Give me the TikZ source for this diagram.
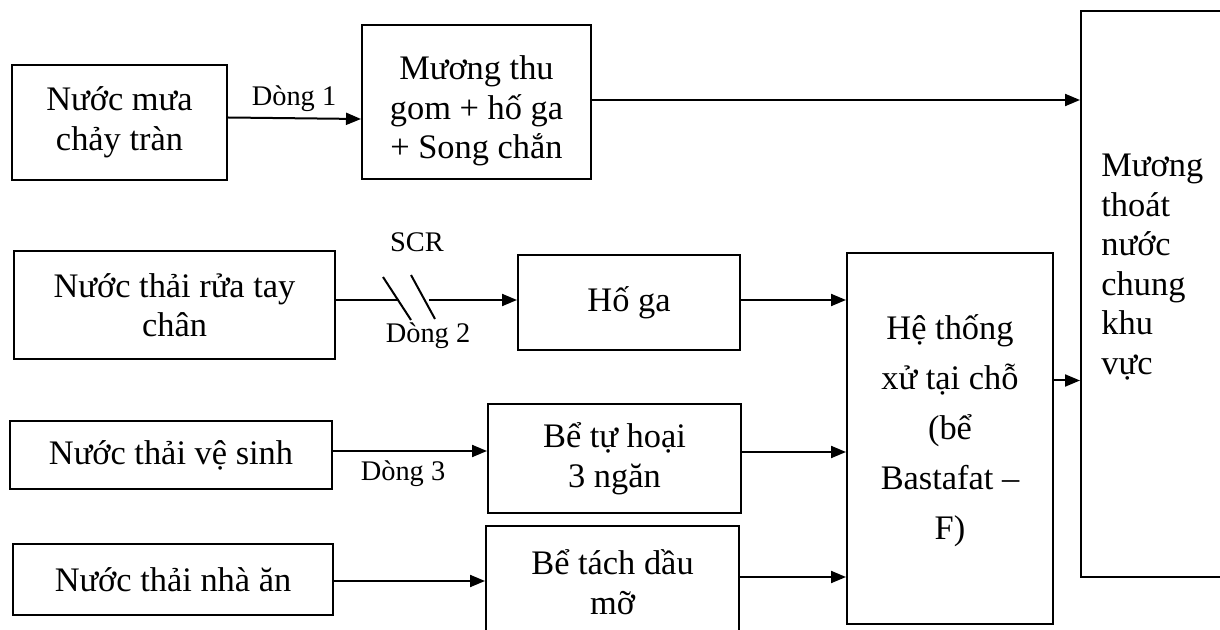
\documentclass[tikz,border=0pt]{standalone}
\usepackage{fontspec}
\setmainfont{Liberation Serif}
\usetikzlibrary{arrows.meta}
\newcommand\mainfs{\fontsize{17.2pt}{19.75pt}\selectfont}
\newcommand\labfs{\fontsize{14.2pt}{16pt}\selectfont}
\tikzset{
  box/.style={draw, line width=1pt, align=center, inner sep=0pt, font=\mainfs},
  txt/.style={inner sep=0pt, align=center, font=\mainfs},
  lab/.style={inner sep=0pt, font=\labfs, anchor=base},
  flow/.style={line width=1pt, -{Triangle[length=7.5pt,width=6pt]}},
  plain/.style={line width=1pt}
}
\begin{document}
\begin{tikzpicture}[x=0.5pt,y=-0.5pt]
\useasboundingbox (0,0) rectangle (1220,630);
\clip (0,0) rectangle (1220,630);
% boxes
\node[box, minimum width=107.5pt, minimum height=57.5pt] (a) at (119.5,122.5) {Nước mưa\\chảy tràn};
\node[box, minimum width=114.5pt, minimum height=77pt] (b) at (476.5,102) {};
\node[txt] (bt) at (476.5,111) {Mương thu\\gom + hố ga\\+ Song chắn};
\node[box, minimum width=160.5pt, minimum height=54pt] (c1) at (174.5,305) {Nước thải rửa tay\\chân};
\node[box, minimum width=161pt, minimum height=34pt] (c2) at (171,455) {Nước thải vệ sinh};
\node[box, minimum width=160pt, minimum height=35.5pt] (c3) at (173,579.5) {Nước thải nhà ăn};
\node[box, minimum width=111pt, minimum height=47.5pt] (d1) at (629,302.5) {Hố ga};
\node[box, minimum width=126.5pt, minimum height=54.5pt] (d2) at (614.5,458.5) {Bể tự hoại\\3 ngăn};
\node[box, minimum width=126.5pt, minimum height=56pt] (d3) at (612.5,582) {Bể tách dầu\\mỡ};
\node[box, minimum width=103pt, minimum height=185.5pt] (f) at (950,438.5) {};
\node[txt, font=\fontsize{17.2pt}{25pt}\selectfont] (ft) at (950,431) {Hệ thống\\xử tại chỗ\\(bể\\Bastafat –\\F)};
\node[box, minimum width=79.5pt, minimum height=283pt] (e) at (1160.5,294) {};
\node[inner sep=0pt, align=left, font=\mainfs, anchor=north west] (et) at (1101,154) {Mương\\thoát\\nước\\chung\\khu\\vực};
% labels
\node[lab] (l1) at (294,106) {Dòng 1};
\node[lab] (lscr) at (417,252) {SCR};
\node[lab] (l2) at (428,343) {Dòng 2};
\node[lab] (l3) at (403,480) {Dòng 3};
% connectors
\draw[flow] ([yshift=2.5pt]a.east) -- ([yshift=-8.5pt]b.west);
\draw[flow] ([yshift=1pt]b.east) -- ([yshift=1pt]b.east -| e.west);
\coordinate (s1) at (399,300);
\coordinate (s2) at (429,300);
\draw[plain] (c1.east |- s1) -- (s1);
\draw[plain] (383,277) -- (411,320);
\draw[plain] (411,275) -- (435,319);
\draw[flow] (s2) -- (s2 -| d1.west);
\draw[flow] ([yshift=2pt]c2.east) -- ([yshift=2pt]c2.east -| d2.west);
\draw[flow] ([yshift=-0.75pt]c3.east) -- ([yshift=-0.75pt]c3.east -| d3.west);
\draw[flow] ([yshift=1.25pt]d1.east) -- ([yshift=1.25pt]d1.east -| f.west);
\draw[flow] ([yshift=3.25pt]d2.east) -- ([yshift=3.25pt]d2.east -| f.west);
\draw[flow] ([yshift=2.5pt]d3.east) -- ([yshift=2.5pt]d3.east -| f.west);
\draw[flow] ([yshift=29pt]f.east) -- ([yshift=29pt]f.east -| e.west);
\end{tikzpicture}
\end{document}
